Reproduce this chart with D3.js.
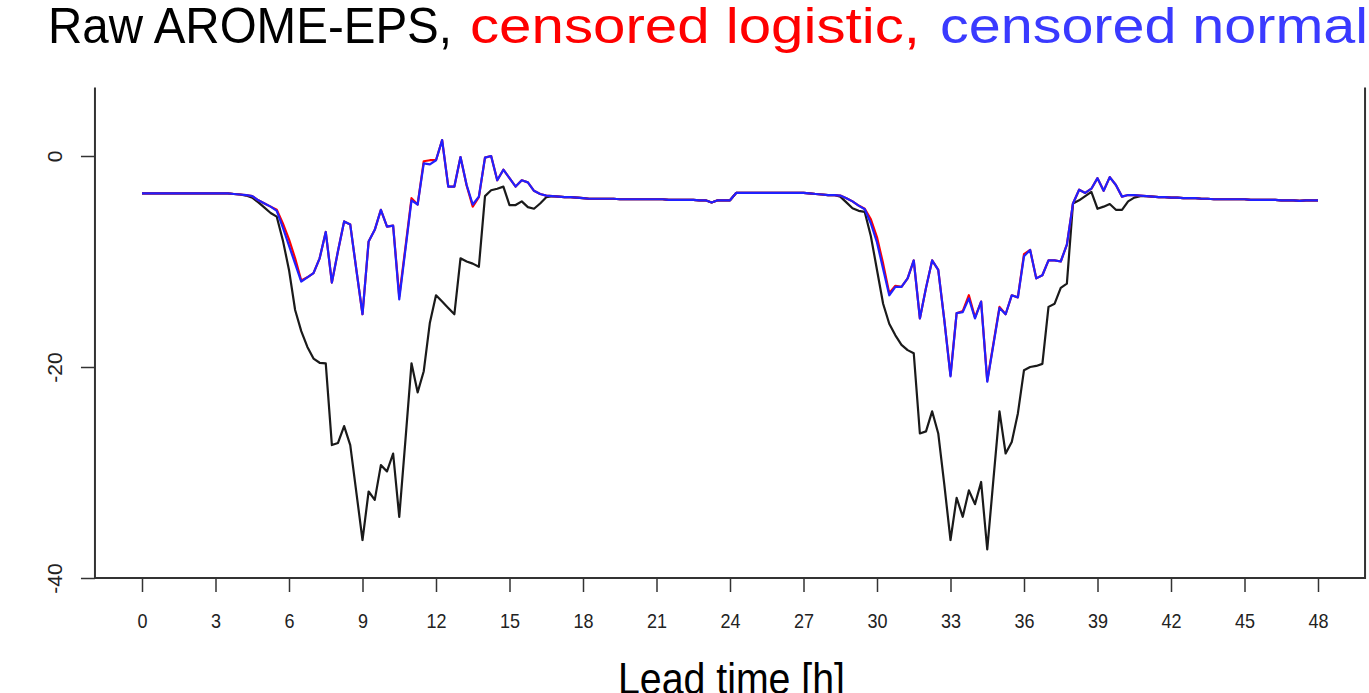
<!DOCTYPE html>
<html>
<head>
<meta charset="utf-8">
<script src="https://cdn.jsdelivr.net/npm/d3@7"></script>
<style>
  html, body { margin: 0; padding: 0; background: #fff; overflow: hidden; }
  svg { display: block; }
</style>
</head>
<body>
<svg id="chart" width="1369" height="693"></svg>
<script>
// Lead times every 15 minutes from 0 h to 48 h
const leadTimes = d3.range(0, 48.001, 0.25);
const xTickValues = [0, 3, 6, 9, 12, 15, 18, 21, 24, 27, 30, 33, 36, 39, 42, 45, 48];
const yTickValues = [-40, -20, 0];

// Raw AROME-EPS
const rawEps = [
  -3.55,-3.55,-3.55,-3.55, -3.55,-3.55,-3.55,-3.55, -3.55,-3.55,-3.55,-3.55, -3.55,-3.55,-3.55,-3.6,
  -3.65,-3.75,-3.95,-4.4, -4.9,-5.4,-5.75,-8.0, -10.8,-14.6,-16.6,-18.1, -19.2,-19.6,-19.65,-27.4,
  -27.2,-25.6,-27.4,-31.9, -36.4,-31.8,-32.6,-29.3, -29.9,-28.2,-34.2,-27.0, -19.65,-22.4,-20.4,-15.8,
  -13.2,-13.8,-14.4,-15.0, -9.7,-10.0,-10.2,-10.5, -3.8,-3.25,-3.1,-2.9, -4.65,-4.65,-4.3,-4.85,
  -5.0,-4.5,-3.9,-3.8, -3.85,-3.9,-3.9,-3.95, -4.0,-4.05,-4.05,-4.05, -4.05,-4.05,-4.1,-4.1,
  -4.1,-4.1,-4.1,-4.1, -4.1,-4.1,-4.15,-4.15, -4.15,-4.15,-4.15,-4.2, -4.2,-4.4,-4.2,-4.2,
  -4.2,-3.5,-3.5,-3.5, -3.5,-3.5,-3.5,-3.5, -3.5,-3.5,-3.5,-3.5, -3.5,-3.55,-3.6,-3.65,
  -3.7,-3.7,-3.85,-4.4, -4.95,-5.2,-5.3,-7.6, -10.8,-14.0,-15.9,-17.0, -17.9,-18.4,-18.7,-26.3,
  -26.1,-24.2,-26.3,-31.2, -36.4,-32.4,-34.2,-31.7, -33.0,-30.9,-37.3,-30.7, -24.2,-28.2,-27.1,-24.4,
  -20.3,-20.0,-19.9,-19.7, -14.3,-14.0,-12.5,-12.1, -4.5,-4.2,-3.8,-3.4, -5.0,-4.8,-4.55,-5.1,
  -5.1,-4.3,-3.95,-3.8, -3.8,-3.85,-3.9,-3.9, -3.95,-3.95,-4.0,-4.0, -4.0,-4.05,-4.05,-4.1,
  -4.1,-4.1,-4.1,-4.1, -4.1,-4.15,-4.15,-4.15, -4.15,-4.15,-4.2,-4.2, -4.2,-4.25,-4.2,-4.2,
  -4.2
];

// Censored logistic EMOS
const censoredLogistic = [
  -3.55,-3.55,-3.55,-3.55, -3.55,-3.55,-3.55,-3.55, -3.55,-3.55,-3.55,-3.55, -3.55,-3.55,-3.55,-3.6,
  -3.65,-3.7,-3.8,-4.2, -4.5,-4.8,-5.1,-6.4, -7.9,-9.7,-11.8,-11.5, -11.1,-9.7,-7.2,-12.0,
  -9.0,-6.2,-6.5,-10.8, -15.0,-8.1,-7.0,-5.1, -6.7,-6.6,-13.3,-8.7, -4.0,-4.6,-0.5,-0.4,
  -0.4,1.5,-2.9,-2.9, -0.1,-2.8,-4.8,-3.9, -0.15,0.0,-2.3,-1.3, -2.1,-2.9,-2.3,-2.5,
  -3.3,-3.6,-3.75,-3.8, -3.85,-3.9,-3.9,-3.95, -4.0,-4.05,-4.05,-4.05, -4.05,-4.05,-4.1,-4.1,
  -4.1,-4.1,-4.1,-4.1, -4.1,-4.1,-4.15,-4.15, -4.15,-4.15,-4.15,-4.2, -4.2,-4.4,-4.2,-4.2,
  -4.2,-3.5,-3.5,-3.5, -3.5,-3.5,-3.5,-3.5, -3.5,-3.5,-3.5,-3.5, -3.5,-3.55,-3.6,-3.65,
  -3.7,-3.7,-3.75,-4.0, -4.3,-4.7,-5.0,-6.0, -7.7,-10.2,-13.0,-12.3, -12.4,-11.6,-9.9,-15.4,
  -12.5,-9.9,-10.8,-15.6, -20.8,-14.9,-14.7,-13.2, -15.3,-13.8,-21.3,-17.8, -14.3,-15.0,-13.2,-13.4,
  -9.3,-8.9,-11.6,-11.3, -9.9,-9.9,-10.0,-8.4, -4.5,-3.2,-3.5,-3.1, -2.1,-3.3,-2.0,-2.75,
  -3.85,-3.7,-3.7,-3.75, -3.8,-3.85,-3.9,-3.9, -3.95,-3.95,-4.0,-4.0, -4.0,-4.05,-4.05,-4.1,
  -4.1,-4.1,-4.1,-4.1, -4.1,-4.15,-4.15,-4.15, -4.15,-4.15,-4.2,-4.2, -4.2,-4.25,-4.2,-4.2,
  -4.2
];

// Censored normal EMOS
const censoredNormal = [
  -3.55,-3.55,-3.55,-3.55, -3.55,-3.55,-3.55,-3.55, -3.55,-3.55,-3.55,-3.55, -3.55,-3.55,-3.55,-3.6,
  -3.65,-3.7,-3.8,-4.2, -4.5,-4.8,-5.2,-6.8, -8.5,-10.2,-11.9,-11.5, -11.1,-9.7,-7.2,-12.0,
  -9.0,-6.2,-6.5,-10.8, -15.0,-8.1,-7.0,-5.1, -6.7,-6.6,-13.6,-8.9, -4.2,-4.6,-0.7,-0.8,
  -0.4,1.5,-2.9,-2.9, -0.1,-2.75,-4.6,-3.85, -0.15,0.0,-2.3,-1.3, -2.1,-2.9,-2.3,-2.5,
  -3.3,-3.6,-3.75,-3.8, -3.85,-3.9,-3.9,-3.95, -4.0,-4.05,-4.05,-4.05, -4.05,-4.05,-4.1,-4.1,
  -4.1,-4.1,-4.1,-4.1, -4.1,-4.1,-4.15,-4.15, -4.15,-4.15,-4.15,-4.2, -4.2,-4.4,-4.2,-4.2,
  -4.2,-3.5,-3.5,-3.5, -3.5,-3.5,-3.5,-3.5, -3.5,-3.5,-3.5,-3.5, -3.5,-3.55,-3.6,-3.65,
  -3.7,-3.7,-3.75,-4.0, -4.3,-4.7,-5.05,-6.4, -8.2,-10.7,-13.2,-12.4, -12.4,-11.6,-9.9,-15.4,
  -12.5,-9.9,-10.8,-15.6, -20.9,-14.9,-14.8,-13.5, -15.4,-13.8,-21.4,-17.9, -14.4,-15.0,-13.2,-13.4,
  -9.5,-8.9,-11.6,-11.3, -9.9,-9.9,-10.0,-8.4, -4.5,-3.2,-3.5,-3.1, -2.1,-3.3,-2.0,-2.75,
  -3.85,-3.7,-3.7,-3.75, -3.8,-3.85,-3.9,-3.9, -3.95,-3.95,-4.0,-4.0, -4.0,-4.05,-4.05,-4.1,
  -4.1,-4.1,-4.1,-4.1, -4.1,-4.15,-4.15,-4.15, -4.15,-4.15,-4.2,-4.2, -4.2,-4.25,-4.2,-4.2,
  -4.2
];

const seriesList = [
  { name: "Raw AROME-EPS", values: rawEps, color: "#1a1a1a", titleColor: "#000000" },
  { name: "censored logistic", values: censoredLogistic, color: "#ff0000", titleColor: "#ff0000" },
  { name: "censored normal", values: censoredNormal, color: "#2020ff", titleColor: "#3a3aff" }
];

const svg = d3.select("#chart");
const fontStack = "'Liberation Sans Narrow', 'Liberation Sans', Arial, sans-serif";

const x = d3.scaleLinear().domain([0, 48]).range([142, 1318]);
const y = d3.scaleLinear().domain([-40, 0]).range([578, 156]);

// plot region (R-style 4% extension in x, open frame on top)
const xLo = x(-1.92), xHi = x(49.92);
const yBottom = y(-40), yTop = y(6.5);

// series lines
const line = d3.line()
  .x((d, i) => x(leadTimes[i]))
  .y(d => y(d));

svg.append("g")
  .selectAll("path")
  .data(seriesList)
  .join("path")
  .attr("d", s => line(s.values))
  .attr("fill", "none")
  .attr("stroke", s => s.color)
  .attr("stroke-width", 2.2)
  .attr("stroke-linejoin", "round");

// frame: left, bottom, right
svg.append("path")
  .attr("d", `M${xLo},${yTop}V${yBottom}H${xHi}V${yTop}`)
  .attr("fill", "none")
  .attr("stroke", "#333")
  .attr("stroke-width", 2);

// x axis
const xAxis = d3.axisBottom(x)
  .tickValues(xTickValues)
  .tickSize(14)
  .tickPadding(22)
  .tickFormat(d3.format("d"));
const gx = svg.append("g").attr("transform", `translate(0,${yBottom})`).call(xAxis);
gx.select(".domain").remove();
gx.selectAll(".tick line").attr("stroke", "#333").attr("stroke-width", 1.5);
gx.selectAll(".tick text")
  .attr("font-family", fontStack)
  .attr("font-size", 20)
  .attr("fill", "#222")
  .attr("transform", "scale(0.9,1)");

// y axis with rotated labels
const yAxis = d3.axisLeft(y)
  .tickValues(yTickValues)
  .tickSize(14)
  .tickFormat(d => d < 0 ? "-" + Math.abs(d) : String(d));
const gy = svg.append("g").attr("transform", `translate(${xLo},0)`).call(yAxis);
gy.select(".domain").remove();
gy.selectAll(".tick line").attr("stroke", "#333").attr("stroke-width", 1.5);
gy.selectAll(".tick text")
  .attr("font-family", fontStack)
  .attr("font-size", 21)
  .attr("fill", "#222")
  .attr("x", null)
  .attr("dy", null)
  .attr("text-anchor", "middle")
  .attr("transform", "translate(-40,0) rotate(-90)")
  .attr("y", 7);

// x axis title
svg.append("text")
  .attr("x", 618)
  .attr("y", 694)
  .attr("textLength", 227)
  .attr("lengthAdjust", "spacingAndGlyphs")
  .attr("font-family", fontStack)
  .attr("font-size", 44)
  .attr("fill", "#000")
  .text("Lead time [h]");

// coloured title naming the three series
const titleParts = [
  { text: seriesList[0].name + ",", x: 48, width: 404, color: seriesList[0].titleColor },
  { text: seriesList[1].name + ",", x: 470, width: 450, color: seriesList[1].titleColor },
  { text: seriesList[2].name, x: 940, width: 428, color: seriesList[2].titleColor }
];
svg.append("g")
  .selectAll("text")
  .data(titleParts)
  .join("text")
  .attr("x", d => d.x)
  .attr("y", 43)
  .attr("textLength", d => d.width)
  .attr("lengthAdjust", "spacingAndGlyphs")
  .attr("font-family", fontStack)
  .attr("font-size", 50)
  .attr("fill", d => d.color)
  .text(d => d.text);
</script>
</body>
</html>
